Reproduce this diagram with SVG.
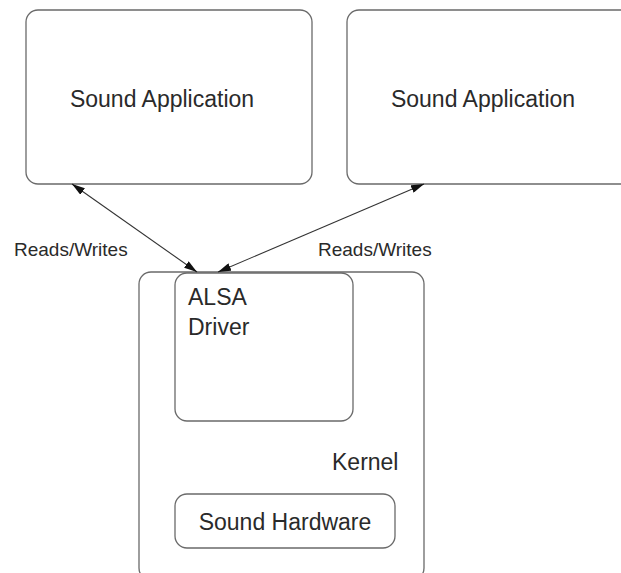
<svg xmlns="http://www.w3.org/2000/svg" width="621" height="573" viewBox="0 0 621 573">
  <style>
    .box { fill: #ffffff; stroke: #6a6a6a; stroke-width: 1.3; }
    .lbl { font-family: "Liberation Sans", Arial, sans-serif; font-size: 23px; fill: #2a2a2a; }
    .edge-lbl { font-family: "Liberation Sans", Arial, sans-serif; font-size: 19px; fill: #2a2a2a; }
    .link { stroke: #333333; stroke-width: 1.1; fill: none; marker-start: url(#head); marker-end: url(#head); }
  </style>
  <defs>
    <marker id="head" viewBox="0 0 13 8" refX="13" refY="4" markerWidth="13" markerHeight="8" markerUnits="userSpaceOnUse" orient="auto-start-reverse">
      <path d="M0,0 L13,4 L0,8 Z" fill="#111111"/>
    </marker>
  </defs>
  <rect width="621" height="573" fill="#ffffff"/>

  <g id="app-left">
    <rect class="box" x="26" y="10" width="286" height="174" rx="12"/>
    <text class="lbl" x="162" y="107" text-anchor="middle">Sound Application</text>
  </g>

  <g id="app-right">
    <rect class="box" x="347" y="10" width="290" height="174" rx="12"/>
    <text class="lbl" x="483" y="107" text-anchor="middle">Sound Application</text>
  </g>

  <g id="kernel">
    <rect class="box" x="139" y="272" width="285" height="308" rx="12"/>
    <text class="lbl" x="332" y="470">Kernel</text>
  </g>

  <g id="alsa-driver">
    <rect class="box" x="175" y="273" width="178" height="148" rx="12"/>
    <text class="lbl" x="188" y="305">ALSA</text>
    <text class="lbl" x="188" y="335">Driver</text>
  </g>

  <g id="sound-hardware">
    <rect class="box" x="175" y="494" width="220" height="54" rx="12"/>
    <text class="lbl" x="285" y="530" text-anchor="middle">Sound Hardware</text>
  </g>

  <g id="connectors">
    <line class="link" x1="72" y1="184" x2="197" y2="272"/>
    <line class="link" x1="424" y1="184" x2="218" y2="272"/>
    <text class="edge-lbl" x="14" y="256">Reads/Writes</text>
    <text class="edge-lbl" x="318" y="256">Reads/Writes</text>
  </g>
</svg>
